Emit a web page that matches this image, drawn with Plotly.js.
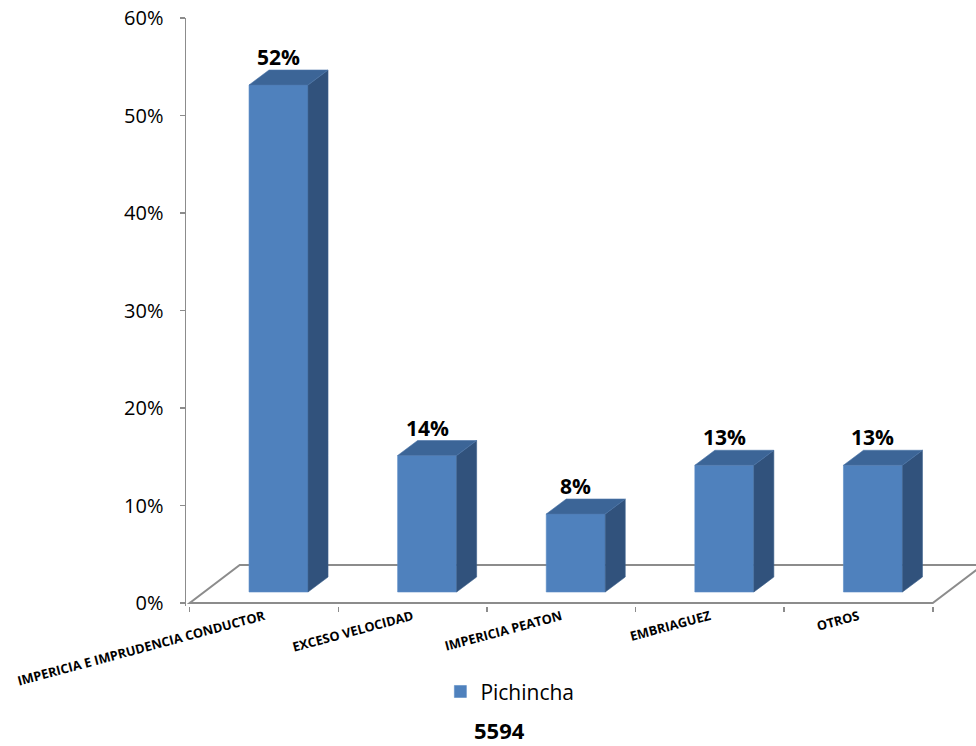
<!DOCTYPE html>
<html>
<head>
<meta charset="utf-8">
<script src="https://cdn.plot.ly/plotly-3.0.1.min.js"></script>
<style>
  html, body { margin: 0; padding: 0; background: #ffffff; }
  #chart { width: 976px; height: 746px; }
</style>
</head>
<body>
<div id="chart"></div>
<script>
// Causes of traffic accidents, share of total cases
const categories = [
  'IMPERICIA E IMPRUDENCIA CONDUCTOR',
  'EXCESO VELOCIDAD',
  'IMPERICIA PEATON',
  'EMBRIAGUEZ',
  'OTROS'
];
const shares = [0.52, 0.14, 0.08, 0.13, 0.13];
const seriesName = 'Pichincha';
const totalCases = '5594';
const yTicks = [0, 0.1, 0.2, 0.3, 0.4, 0.5, 0.6];

// Pseudo-3D geometry, expressed in axis units
const X_RANGE = [-0.525, 4.791];
const Y_RANGE = [-0.003077, 0.6];
const PLOT_W = 790, PLOT_H = 588;
const PX_X = PLOT_W / (X_RANGE[1] - X_RANGE[0]);   // px per category
const PX_Y = PLOT_H / (Y_RANGE[1] - Y_RANGE[0]);   // px per unit of share
const BAR_W = 59 / PX_X;                           // front face width
const INSET_X = 14.5 / PX_X, INSET_Y = 11 / PX_Y;  // bars sit inside the floor
const DX = 20 / PX_X, DY = 15 / PX_Y;              // bar depth
const FDX = 50 / PX_X, FDY = 38 / PX_Y;            // floor depth

const n = categories.length;
const idx = categories.map((_, i) => i);
const lo = -0.5, hi = n - 0.5;

// floor outline (back edge, left side, front edge, right side), drawn beneath the bars
const floorPts = [[hi + FDX, FDY], [lo + FDX, FDY], [lo, 0], [hi, 0], [hi + FDX, FDY]];
const floorShape = {
  type: 'path', xref: 'x', yref: 'y', layer: 'below',
  path: floorPts.map((p, k) => (k ? 'L' : 'M') + p[0] + ',' + p[1]).join(' '),
  line: { color: '#8c8c8c', width: 2 }
};

// side and top faces of each bar
const sideX = [], sideY = [], topX = [], topY = [];
shares.forEach((v, i) => {
  const xl = i + INSET_X - BAR_W / 2, xr = i + INSET_X + BAR_W / 2;
  const y0 = INSET_Y, y1 = INSET_Y + v;
  sideX.push(xr, xr + DX, xr + DX, xr, xr, null);
  sideY.push(y0, y0 + DY, y1 + DY, y1, y0, null);
  topX.push(xl, xr, xr + DX, xl + DX, xl, null);
  topY.push(y1, y1, y1 + DY, y1 + DY, y1, null);
});

const sides = {
  type: 'scatter', mode: 'lines', fill: 'toself', hoverinfo: 'skip', showlegend: false,
  x: sideX, y: sideY, fillcolor: '#31527c',
  line: { color: '#3a5f8c', width: 0.6 }
};
const tops = {
  type: 'scatter', mode: 'lines', fill: 'toself', hoverinfo: 'skip', showlegend: false,
  x: topX, y: topY, fillcolor: '#3c6597',
  line: { color: '#4a74a8', width: 0.6 }
};

// front faces
const fronts = {
  type: 'bar', name: seriesName,
  x: idx.map(i => i + INSET_X),
  y: shares,
  base: shares.map(() => INSET_Y),
  width: BAR_W,
  marker: { color: '#4f81bd', line: { color: '#5a8bc6', width: 0.6 } },
  hoverinfo: 'skip'
};

const valueLabels = shares.map((v, i) => ({
  x: i + INSET_X, y: INSET_Y + v, xref: 'x', yref: 'y',
  text: Math.round(v * 100) + '%',
  showarrow: false, yanchor: 'middle', yshift: 28,
  font: { family: 'Open Sans, sans-serif', size: 21, color: '#000000', weight: 'bold' }
}));

const layout = {
  width: 976, height: 746,
  margin: { l: 186, r: 0, t: 18, b: 140 },
  paper_bgcolor: '#ffffff', plot_bgcolor: 'rgba(0,0,0,0)',
  font: { family: 'Open Sans, sans-serif', color: '#000000' },
  showlegend: true,
  legend: {
    orientation: 'h', x: 0.322, xanchor: 'left', y: -0.146, yanchor: 'middle',
    font: { size: 21, color: '#000000' }, bgcolor: 'rgba(0,0,0,0)'
  },
  shapes: [floorShape],
  xaxis: {
    range: X_RANGE, fixedrange: true,
    tickmode: 'array', tickvals: idx, ticktext: categories,
    tickangle: -15, ticks: '', showline: false, showgrid: false, zeroline: false,
    tickfont: { family: 'Open Sans, sans-serif', size: 12.8, color: '#000000', weight: 'bold' },
    minor: {
      tickmode: 'array', tickvals: idx.map(i => i - 0.5).concat([hi]),
      ticks: 'outside', ticklen: 5, tickwidth: 1.5, tickcolor: '#8c8c8c', showgrid: false
    }
  },
  yaxis: {
    range: Y_RANGE, fixedrange: true,
    tickmode: 'array', tickvals: yTicks, tickformat: '.0%',
    ticks: 'outside', ticklen: 5, tickwidth: 1.5, tickcolor: '#8c8c8c',
    showline: true, linecolor: '#8c8c8c', linewidth: 1.5,
    showgrid: false, zeroline: false, ticklabelstandoff: 12,
    tickfont: { family: 'Open Sans, sans-serif', size: 20, color: '#000000' }
  },
  annotations: valueLabels.concat([{
    xref: 'paper', yref: 'paper', x: 0.397, y: -0.211,
    text: '<b>' + totalCases + '</b>', showarrow: false,
    xanchor: 'center', yanchor: 'middle',
    font: { family: 'Open Sans, sans-serif', size: 22, color: '#000000' }
  }])
};

Plotly.newPlot('chart', [sides, tops, fronts], layout, { displayModeBar: false, staticPlot: true });
</script>
</body>
</html>
